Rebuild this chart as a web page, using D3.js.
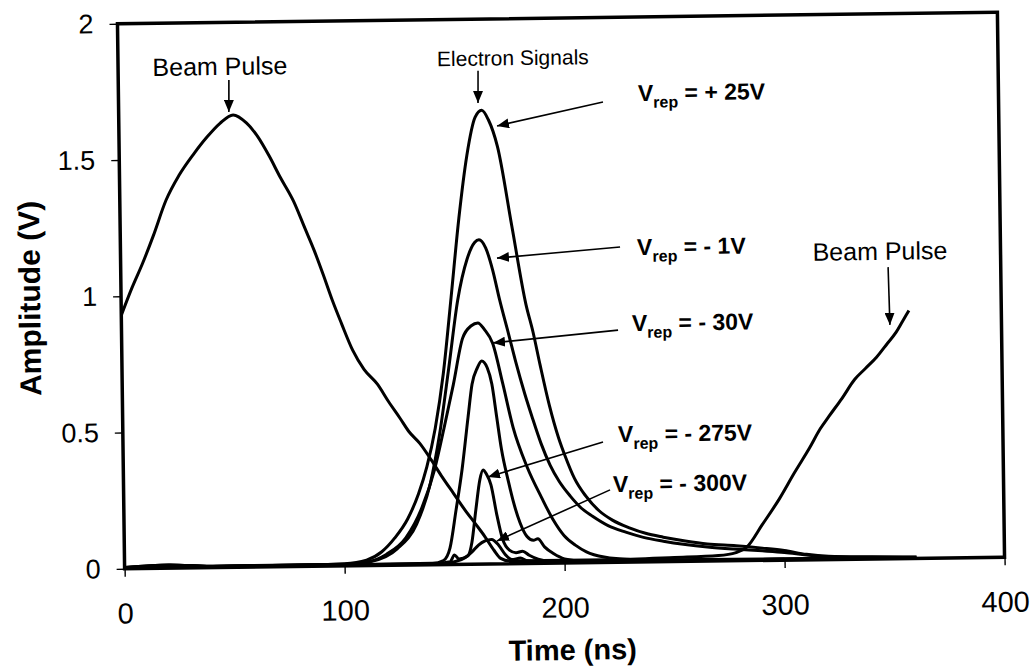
<!DOCTYPE html>
<html>
<head>
<meta charset="utf-8">
<script src="https://cdn.jsdelivr.net/npm/d3@7"></script>
<style>
body{margin:0;background:#fff;}
svg text{font-family:"Liberation Sans",Arial,sans-serif;fill:#000;}
</style>
</head>
<body>
<div id="chart"></div>
<script>
// values: time (ns) / amplitude (V)

// beam pulse trace (first pulse + start of the next one)
var beamT = [0, 5, 10, 15, 21, 27, 34, 40, 46, 52, 58, 63, 68, 73, 79, 84, 88, 92, 96, 100, 105, 110, 116, 121, 126, 130, 135, 140, 145, 150, 155, 160, 164, 168, 171, 175, 190, 220, 250, 270, 278, 283, 290, 298, 305, 312, 317, 321, 327, 333, 338, 343, 348, 352, 355, 358];
var beamV = [0.93, 1.03, 1.12, 1.22, 1.35, 1.44, 1.52, 1.58, 1.63, 1.66, 1.63, 1.58, 1.51, 1.43, 1.34, 1.24, 1.16, 1.07, 0.975, 0.89, 0.79, 0.72, 0.665, 0.6, 0.54, 0.49, 0.445, 0.385, 0.32, 0.26, 0.2, 0.145, 0.1, 0.05, 0.02, 0.01, 0.01, 0.01, 0.015, 0.02, 0.03, 0.05, 0.13, 0.225, 0.32, 0.41, 0.48, 0.525, 0.59, 0.66, 0.7, 0.74, 0.79, 0.83, 0.87, 0.91];

// electron signals, one per repeller voltage
var tPlus25 = [0, 20, 40, 80, 100, 110, 117, 123, 129, 134, 138, 142, 146, 150, 154, 158, 162, 165, 168, 172, 178, 184, 187, 190, 194, 198, 201, 205, 210, 216, 222, 230, 237, 245, 255, 265, 278, 290, 300, 310, 320, 340, 360];
var vPlus25 = [0.005, 0.012, 0.005, 0.005, 0.008, 0.02, 0.05, 0.1, 0.17, 0.26, 0.36, 0.5, 0.7, 0.98, 1.27, 1.5, 1.64, 1.665, 1.63, 1.53, 1.24, 0.95, 0.85, 0.73, 0.58, 0.46, 0.39, 0.31, 0.245, 0.19, 0.155, 0.125, 0.105, 0.09, 0.075, 0.063, 0.055, 0.045, 0.035, 0.02, 0.012, 0.008, 0.005];

var tMinus1 = [0, 20, 40, 100, 112, 124, 133, 139.5, 144, 148.5, 153, 157.5, 161, 163, 166, 169, 172, 176, 179, 183, 186, 190, 194, 198, 203, 208, 213, 220, 228, 236, 245, 255, 265, 277, 290, 300, 310, 320, 340, 360];
var vMinus1 = [0.005, 0.012, 0.005, 0.006, 0.015, 0.06, 0.15, 0.3, 0.48, 0.72, 0.97, 1.12, 1.18, 1.19, 1.16, 1.08, 0.97, 0.84, 0.74, 0.62, 0.54, 0.44, 0.36, 0.3, 0.245, 0.2, 0.17, 0.135, 0.11, 0.09, 0.075, 0.062, 0.052, 0.043, 0.035, 0.028, 0.018, 0.01, 0.006, 0.004];

var tMinus30 = [0, 20, 40, 100, 110, 119, 128, 135.5, 141.5, 146, 150.5, 155, 159, 162, 165, 168.6, 173, 177.4, 183.5, 190, 195, 200, 205, 210, 218, 230, 260, 300, 340];
var vMinus30 = [0.004, 0.01, 0.004, 0.005, 0.012, 0.04, 0.1, 0.21, 0.35, 0.5, 0.66, 0.83, 0.875, 0.885, 0.86, 0.81, 0.66, 0.5, 0.355, 0.24, 0.16, 0.1, 0.065, 0.04, 0.02, 0.01, 0.006, 0.005, 0.004];

var tMinus100 = [0, 40, 100, 140, 145, 148, 151, 154, 157, 159, 161.5, 163.5, 166, 168, 170, 172, 175, 177, 180, 183, 186, 188, 191, 195, 200, 210, 260, 320];
var vMinus100 = [0.004, 0.004, 0.004, 0.005, 0.015, 0.06, 0.2, 0.35, 0.54, 0.66, 0.72, 0.745, 0.72, 0.66, 0.54, 0.42, 0.3, 0.23, 0.15, 0.1, 0.085, 0.09, 0.06, 0.035, 0.015, 0.005, 0.004, 0.003];

var tMinus275 = [0, 60, 140, 148, 150, 152, 156, 158, 160, 162, 163.5, 165, 167, 169.5, 172, 175, 178, 181, 184, 188, 195, 240, 300];
var vMinus275 = [0.003, 0.004, 0.003, 0.01, 0.035, 0.02, 0.03, 0.08, 0.2, 0.31, 0.345, 0.33, 0.29, 0.18, 0.09, 0.05, 0.04, 0.045, 0.03, 0.015, 0.005, 0.004, 0.003];

var tMinus300 = [0, 60, 145, 150, 155, 158, 161, 164, 167, 170, 173, 176, 180, 183, 190, 260, 320];
var vMinus300 = [0.003, 0.004, 0.003, 0.01, 0.025, 0.045, 0.07, 0.085, 0.09, 0.07, 0.035, 0.015, 0.02, 0.01, 0.004, 0.003, 0.003];

var xTicks = [0, 100, 200, 300, 400];
var yTicks = [0, 0.5, 1, 1.5, 2];

var width = 1032, height = 672;

var svg = d3.select("#chart").append("svg")
	.attr("width", width)
	.attr("height", height);

// the scan is slightly tilted
var g = svg.append("g").attr("transform", "rotate(-0.75,561,290)");

var x = d3.scaleLinear().domain([0, 400]).range([121, 1001]);
var y = d3.scaleLinear().domain([0, 2]).range([563, 18]);

// arrow head
svg.append("defs").append("marker")
	.attr("id", "head")
	.attr("viewBox", "0 0 12 10")
	.attr("refX", 12).attr("refY", 5)
	.attr("markerWidth", 12).attr("markerHeight", 10)
	.attr("markerUnits", "userSpaceOnUse")
	.attr("orient", "auto")
	.append("path").attr("d", "M0,0L12,5L0,10z").attr("fill", "#000");

// axes
var yAxis = d3.axisLeft(y).tickValues(yTicks).tickSize(8).tickPadding(16).tickFormat(d3.format(""));
var xAxis = d3.axisBottom(x).tickValues(xTicks).tickSize(8).tickPadding(26);

var yg = g.append("g").attr("transform", "translate(" + x(0) + ",0)").call(yAxis);
var xg = g.append("g").attr("transform", "translate(0," + y(0) + ")").call(xAxis);

[yg, xg].forEach(function(a){
	a.select(".domain").remove();
	a.selectAll(".tick line").attr("stroke", "#000").attr("stroke-width", 1.4);
	a.selectAll(".tick text").attr("fill", "#000").style("font-family", "'Liberation Sans',Arial,sans-serif");
});
yg.selectAll(".tick text").style("font-size", "27px");
xg.selectAll(".tick text").style("font-size", "29px");

// axis titles
g.append("text")
	.attr("transform", "translate(40," + (y(1) + 1) + ") rotate(-90)")
	.attr("text-anchor", "middle")
	.style("font-size", "30px").style("font-weight", "bold")
	.text("Amplitude (V)");

g.append("text")
	.attr("x", (x(0) + x(400)) / 2 + 7).attr("y", 660)
	.attr("text-anchor", "middle")
	.style("font-size", "29px").style("font-weight", "bold")
	.text("Time (ns)");

// traces
var line = d3.line()
	.x(function(d){ return x(d[0]); })
	.y(function(d){ return y(d[1]); })
	.curve(d3.curveMonotoneX);

var traces = [
	[tMinus300, vMinus300],
	[tMinus275, vMinus275],
	[tMinus100, vMinus100],
	[tMinus30, vMinus30],
	[tMinus1, vMinus1],
	[tPlus25, vPlus25],
	[beamT, beamV]
];

g.append("g").selectAll("path").data(traces).enter().append("path")
	.attr("d", function(d){ return line(d3.zip(d[0], d[1])); })
	.attr("fill", "none")
	.attr("stroke", "#000")
	.attr("stroke-width", 3)
	.attr("stroke-linejoin", "round");

// plot frame
g.append("rect")
	.attr("x", x(0)).attr("y", y(2))
	.attr("width", x(400) - x(0)).attr("height", y(0) - y(2))
	.attr("fill", "none").attr("stroke", "#000").attr("stroke-width", 3.5);

// annotations, in data coordinates
var notes = [
	{text: "Beam Pulse", at: [46.3, 1.807], from: [50.3, 1.788], to: [50.1, 1.671], size: 25},
	{text: "Electron Signals", at: [179.5, 1.829], from: [163.6, 1.81], to: [163.4, 1.692], size: 21},
	{text: "Beam Pulse", at: [345.2, 1.097], from: [348.8, 1.07], to: [349.3, 0.858], size: 25}
];

var vrep = [
	{text: " = + 25V", at: [236.1, 1.692], from: [220.2, 1.69], to: [171.9, 1.607]},
	{text: " = - 1V", at: [234.8, 1.127], from: [227.1, 1.157], to: [171.1, 1.122]},
	{text: " = - 30V", at: [232, 0.848], from: [225.7, 0.852], to: [168.8, 0.811]},
	{text: " = - 275V", at: [225, 0.441], from: [218.2, 0.442], to: [165.7, 0.319]},
	{text: " = - 300V", at: [222.4, 0.258], from: [221.1, 0.266], to: [169.4, 0.084]}
];

var ann = g.append("g");

function arrow(n){
	ann.append("line")
		.attr("x1", x(n.from[0])).attr("y1", y(n.from[1]))
		.attr("x2", x(n.to[0])).attr("y2", y(n.to[1]))
		.attr("stroke", "#000").attr("stroke-width", 1.6)
		.attr("marker-end", "url(#head)");
}

notes.forEach(function(n){
	arrow(n);
	ann.append("text")
		.attr("x", x(n.at[0])).attr("y", y(n.at[1]))
		.attr("text-anchor", "middle")
		.style("font-size", n.size + "px")
		.text(n.text);
});

vrep.forEach(function(n){
	arrow(n);
	var t = ann.append("text")
		.attr("x", x(n.at[0])).attr("y", y(n.at[1]))
		.style("font-size", "23px").style("font-weight", "bold");
	t.append("tspan").text("V");
	t.append("tspan").attr("dy", 7).style("font-size", "16px").text("rep");
	t.append("tspan").attr("dy", -7).text(n.text);
});
</script>
</body>
</html>
